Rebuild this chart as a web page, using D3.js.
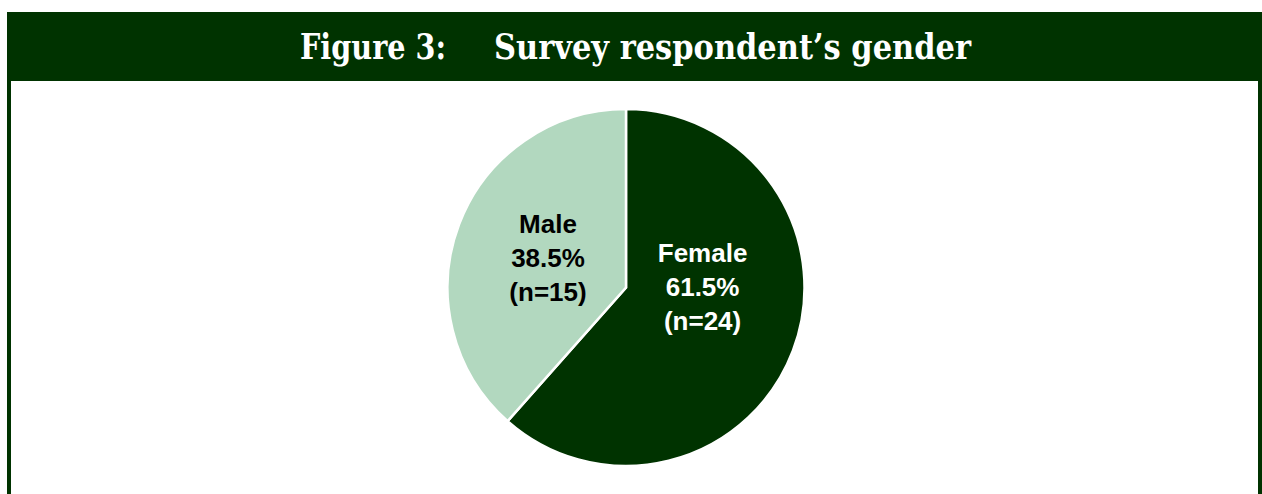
<!DOCTYPE html>
<html><head><meta charset="utf-8">
<script src="https://cdn.jsdelivr.net/npm/d3@7"></script>
<style>html,body{margin:0;padding:0;background:#fff;}svg{display:block;}</style>
</head><body>
<svg id="c" width="1262" height="494"></svg>
<script>
const categories = ["Female", "Male"];
const counts = [24, 15];
const percents = ["61.5%", "38.5%"];
const titleNumber = "Figure 3:";
const titleText = "Survey respondent\u2019s gender";

const W = 1262, H = 494;
const dark = "#003300", light = "#b2d8bf";
const svg = d3.select("#c");

// header + frame
svg.append("rect").attr("x", 7).attr("y", 12).attr("width", W - 7).attr("height", 69).attr("fill", dark);
svg.append("rect").attr("x", 7).attr("y", 80).attr("width", 4).attr("height", H - 80).attr("fill", dark);
svg.append("rect").attr("x", 1258).attr("y", 80).attr("width", 4).attr("height", H - 80).attr("fill", dark);

const tf = "'DejaVu Serif','Liberation Serif',serif";
svg.append("text").attr("x", 300).attr("y", 59).attr("fill", "#fff")
  .attr("font-family", tf).attr("font-weight", "bold").attr("font-size", 36)
  .attr("textLength", 146).attr("lengthAdjust", "spacingAndGlyphs").text(titleNumber);
svg.append("text").attr("x", 494).attr("y", 59).attr("fill", "#fff")
  .attr("font-family", tf).attr("font-weight", "bold").attr("font-size", 36)
  .attr("textLength", 477).attr("lengthAdjust", "spacingAndGlyphs").text(titleText);

// pie
const cx = 626, cy = 287.5, R = 178.5;
const data = categories.map((c, i) => ({cat: c, n: counts[i], pct: percents[i]}));
const pie = d3.pie().value(d => d.n).sort(null);
const arc = d3.arc().innerRadius(0).outerRadius(R);
const color = d3.scaleOrdinal().domain(categories).range([dark, light]);
const g = svg.append("g").attr("transform", `translate(${cx},${cy})`);
const arcs = pie(data);
g.selectAll("path").data(arcs).enter().append("path")
  .attr("d", arc).attr("fill", d => color(d.data.cat))
  .attr("stroke", "#fff").attr("stroke-width", 2.5).attr("stroke-linejoin", "miter");

// label placement (layout offsets relative to pie center, in units of radius)
const labelPos = {Female: [0.429, 0.05], Male: [-0.437, -0.113]};
const textColor = {Female: "#fff", Male: "#000"};
const lab = g.selectAll("text.lab").data(arcs).enter().append("text")
  .attr("class", "lab")
  .attr("text-anchor", "middle")
  .attr("font-family", "'Liberation Sans',Arial,sans-serif")
  .attr("font-weight", "bold").attr("font-size", 26)
  .attr("fill", d => textColor[d.data.cat])
  .attr("transform", d => `translate(${labelPos[d.data.cat][0] * R},${labelPos[d.data.cat][1] * R})`);
lab.each(function(d) {
  const t = d3.select(this);
  const lines = [d.data.cat, d.data.pct, `(n=${d.data.n})`];
  lines.forEach((l, i) => t.append("tspan").attr("x", 0).attr("y", (i - 1) * 34).text(l));
});
</script>
</body></html>
